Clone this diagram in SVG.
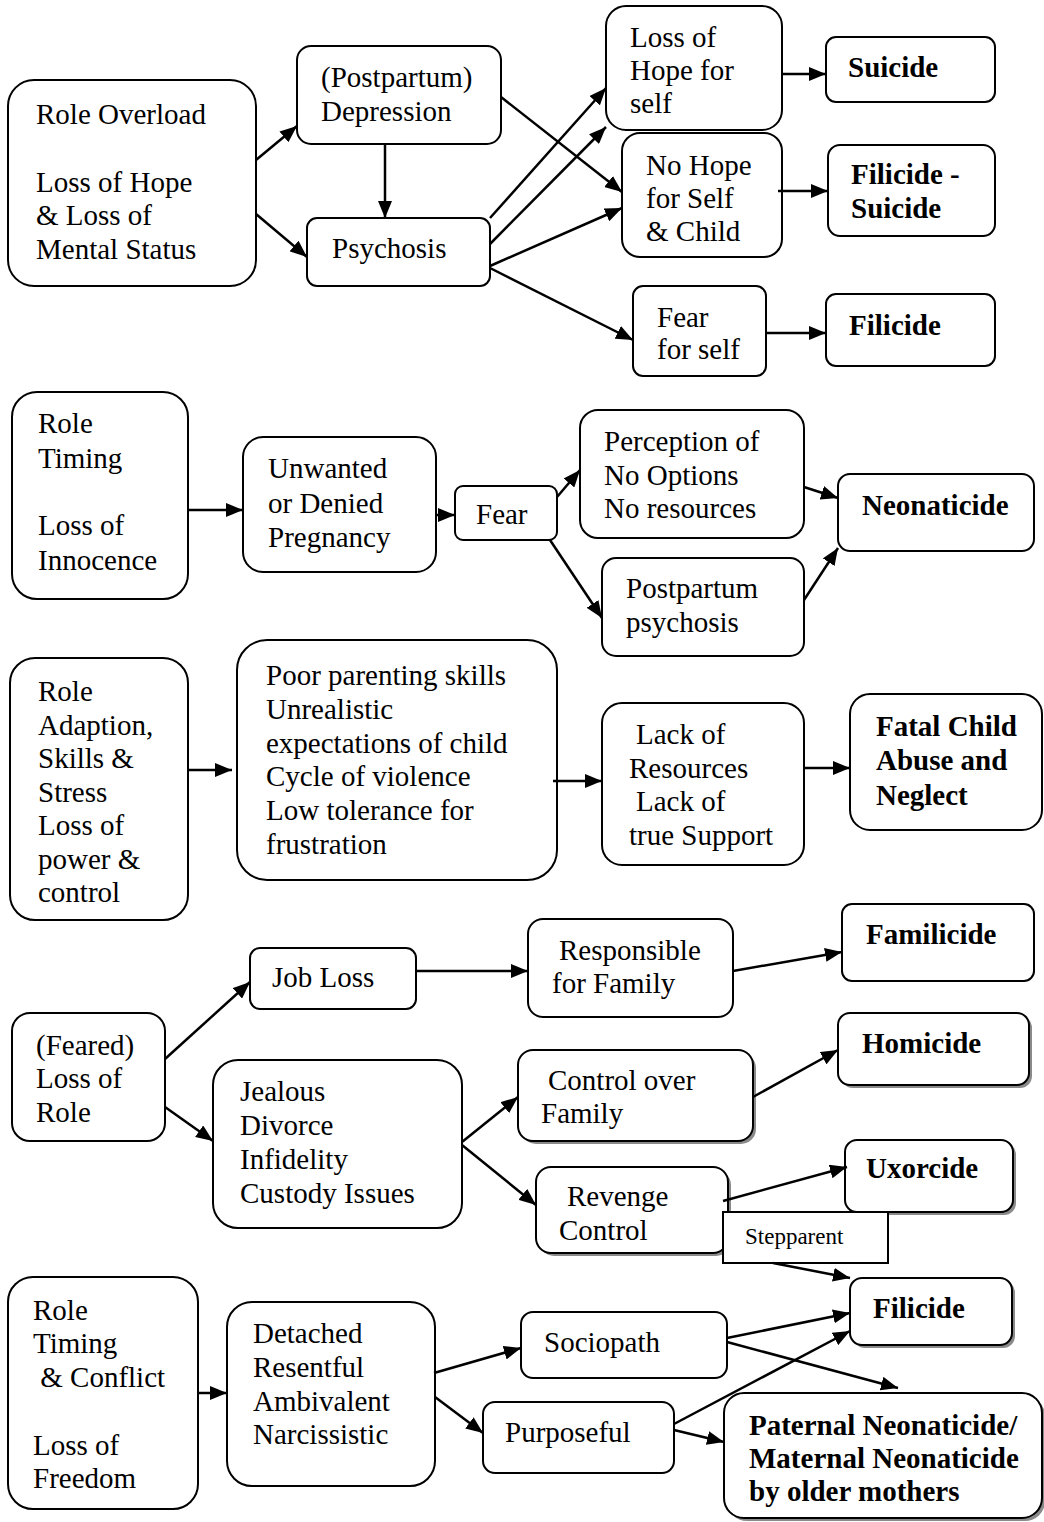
<svg xmlns="http://www.w3.org/2000/svg" width="1044" height="1522" viewBox="0 0 1044 1522">
<style>
.b{fill:#fff;stroke:#000;stroke-width:2}
.s{fill:#8a8a8a;stroke:none}
.t{font-family:"Liberation Serif","Times New Roman",serif;font-size:29px;fill:#000}
.bd{font-weight:bold}
.sm{font-size:23px}
.c{fill:none;stroke:#000;stroke-width:2.5;marker-end:url(#ah)}
</style>
<defs>
<marker id="ah" markerUnits="userSpaceOnUse" markerWidth="17" markerHeight="14" refX="17" refY="7" orient="auto">
<path d="M0,0 L17,7 L0,14 z" fill="#000"/>
</marker>
</defs>
<rect width="1044" height="1522" fill="#fff"/>

<!-- Section 1 -->
<g id="role-overload"><rect class="b" x="8" y="80" width="248" height="206" rx="26"/>
<text class="t"><tspan x="36" y="124">Role Overload</tspan><tspan x="36" y="192">Loss of Hope</tspan><tspan x="36" y="225">&amp; Loss of</tspan><tspan x="36" y="259">Mental Status</tspan></text></g>
<g id="depression"><rect class="b" x="297" y="46" width="204" height="98" rx="14"/>
<text class="t"><tspan x="321" y="87">(Postpartum)</tspan><tspan x="321" y="121">Depression</tspan></text></g>
<g id="psychosis"><rect class="b" x="307" y="218" width="183" height="68" rx="10"/>
<text class="t" x="332" y="258">Psychosis</text></g>
<g id="loss-hope-self"><rect class="b" x="606" y="6" width="176" height="124" rx="20"/>
<text class="t"><tspan x="630" y="47">Loss of</tspan><tspan x="630" y="80">Hope for</tspan><tspan x="630" y="113">self</tspan></text></g>
<g id="no-hope"><rect class="b" x="622" y="133" width="160" height="124" rx="18"/>
<text class="t"><tspan x="646" y="175">No Hope</tspan><tspan x="646" y="208">for Self</tspan><tspan x="646" y="241">&amp; Child</tspan></text></g>
<g id="fear-self"><rect class="b" x="633" y="286" width="133" height="90" rx="10"/>
<text class="t"><tspan x="657" y="327">Fear</tspan><tspan x="657" y="359">for self</tspan></text></g>
<g id="suicide"><rect class="b" x="826" y="37" width="169" height="65" rx="10"/>
<text class="t bd" x="848" y="77">Suicide</text></g>
<g id="filicide-suicide"><rect class="b" x="828" y="145" width="167" height="91" rx="12"/>
<text class="t bd"><tspan x="851" y="184">Filicide -</tspan><tspan x="851" y="218">Suicide</tspan></text></g>
<g id="filicide1"><rect class="b" x="826" y="294" width="169" height="72" rx="10"/>
<text class="t bd" x="849" y="335">Filicide</text></g>

<!-- Section 2 -->
<g id="role-timing"><rect class="b" x="12" y="392" width="176" height="207" rx="25"/>
<text class="t"><tspan x="38" y="433">Role</tspan><tspan x="38" y="468">Timing</tspan><tspan x="38" y="535">Loss of</tspan><tspan x="38" y="570">Innocence</tspan></text></g>
<g id="unwanted"><rect class="b" x="243" y="437" width="193" height="135" rx="20"/>
<text class="t"><tspan x="268" y="478">Unwanted</tspan><tspan x="268" y="513">or Denied</tspan><tspan x="268" y="547">Pregnancy</tspan></text></g>
<g id="fear"><rect class="b" x="455" y="486" width="102" height="54" rx="8"/>
<text class="t" x="476" y="524">Fear</text></g>
<g id="perception"><rect class="b" x="580" y="410" width="224" height="128" rx="18"/>
<text class="t"><tspan x="604" y="451">Perception of</tspan><tspan x="604" y="485">No Options</tspan><tspan x="604" y="518">No resources</tspan></text></g>
<g id="pp-psychosis"><rect class="b" x="602" y="558" width="202" height="98" rx="14"/>
<text class="t"><tspan x="626" y="598">Postpartum</tspan><tspan x="626" y="632">psychosis</tspan></text></g>
<g id="neonaticide"><rect class="b" x="838" y="474" width="196" height="77" rx="12"/>
<text class="t bd" x="862" y="515">Neonaticide</text></g>

<!-- Section 3 -->
<g id="role-adaption"><rect class="b" x="10" y="658" width="178" height="262" rx="25"/>
<text class="t"><tspan x="38" y="701">Role</tspan><tspan x="38" y="735">Adaption,</tspan><tspan x="38" y="768">Skills &amp;</tspan><tspan x="38" y="802">Stress</tspan><tspan x="38" y="835">Loss of</tspan><tspan x="38" y="869">power &amp;</tspan><tspan x="38" y="902">control</tspan></text></g>
<g id="poor-parenting"><rect class="b" x="237" y="640" width="320" height="240" rx="30"/>
<text class="t"><tspan x="266" y="685">Poor parenting skills</tspan><tspan x="266" y="719">Unrealistic</tspan><tspan x="266" y="753">expectations of child</tspan><tspan x="266" y="786">Cycle of violence</tspan><tspan x="266" y="820">Low tolerance for</tspan><tspan x="266" y="854">frustration</tspan></text></g>
<g id="lack"><rect class="b" x="602" y="703" width="202" height="162" rx="20"/>
<text class="t"><tspan x="636" y="744">Lack of</tspan><tspan x="629" y="778">Resources</tspan><tspan x="636" y="811">Lack of</tspan><tspan x="629" y="845">true Support</tspan></text></g>
<g id="fatal"><rect class="b" x="850" y="694" width="192" height="136" rx="20"/>
<text class="t bd"><tspan x="876" y="736">Fatal Child</tspan><tspan x="876" y="770">Abuse and</tspan><tspan x="876" y="805">Neglect</tspan></text></g>

<!-- Section 4 -->
<g id="feared"><rect class="b" x="12" y="1013" width="153" height="128" rx="18"/>
<text class="t"><tspan x="36" y="1055">(Feared)</tspan><tspan x="36" y="1088">Loss of</tspan><tspan x="36" y="1122">Role</tspan></text></g>
<g id="job-loss"><rect class="b" x="250" y="948" width="166" height="61" rx="10"/>
<text class="t" x="272" y="987">Job Loss</text></g>
<g id="jealous"><rect class="b" x="213" y="1060" width="249" height="168" rx="25"/>
<text class="t"><tspan x="240" y="1101">Jealous</tspan><tspan x="240" y="1135">Divorce</tspan><tspan x="240" y="1169">Infidelity</tspan><tspan x="240" y="1203">Custody Issues</tspan></text></g>
<g id="responsible"><rect class="b" x="528" y="919" width="205" height="98" rx="15"/>
<text class="t"><tspan x="559" y="960">Responsible</tspan><tspan x="552" y="993">for Family</tspan></text></g>
<g id="familicide"><rect class="b" x="842" y="904" width="192" height="77" rx="10"/>
<text class="t bd" x="866" y="944">Familicide</text></g>
<g id="control"><rect class="s" x="521" y="1053" width="235" height="91" rx="15"/><rect class="b" x="518" y="1050" width="235" height="91" rx="15"/>
<text class="t"><tspan x="548" y="1090">Control over</tspan><tspan x="541" y="1123">Family</tspan></text></g>
<g id="revenge"><rect class="s" x="539" y="1170" width="192" height="86" rx="15"/><rect class="b" x="536" y="1167" width="192" height="86" rx="15"/>
<text class="t"><tspan x="567" y="1206">Revenge</tspan><tspan x="559" y="1240">Control</tspan></text></g>
<g id="homicide"><rect class="s" x="841" y="1016" width="191" height="72" rx="12"/><rect class="b" x="838" y="1013" width="191" height="72" rx="12"/>
<text class="t bd" x="862" y="1053">Homicide</text></g>
<g id="uxorcide"><rect class="s" x="848" y="1143" width="168" height="72" rx="12"/><rect class="b" x="845" y="1140" width="168" height="72" rx="12"/>
<text class="t bd" x="866" y="1178">Uxorcide</text></g>
<g id="stepparent"><rect class="b" x="723" y="1212" width="165" height="51"/>
<text class="t sm" x="745" y="1244">Stepparent</text></g>

<!-- Section 5 -->
<g id="role-timing-conflict"><rect class="b" x="8" y="1277" width="190" height="232" rx="25"/>
<text class="t"><tspan x="33" y="1320">Role</tspan><tspan x="33" y="1353">Timing</tspan><tspan x="33" y="1387"> &amp; Conflict</tspan><tspan x="33" y="1455">Loss of</tspan><tspan x="33" y="1488">Freedom</tspan></text></g>
<g id="detached"><rect class="b" x="227" y="1302" width="208" height="184" rx="25"/>
<text class="t"><tspan x="253" y="1343">Detached</tspan><tspan x="253" y="1377">Resentful</tspan><tspan x="253" y="1411">Ambivalent</tspan><tspan x="253" y="1444">Narcissistic</tspan></text></g>
<g id="sociopath"><rect class="b" x="521" y="1312" width="206" height="66" rx="12"/>
<text class="t" x="544" y="1352">Sociopath</text></g>
<g id="purposeful"><rect class="b" x="483" y="1402" width="191" height="71" rx="12"/>
<text class="t" x="505" y="1442">Purposeful</text></g>
<g id="filicide2"><rect class="s" x="853" y="1281" width="162" height="67" rx="12"/><rect class="b" x="850" y="1278" width="162" height="67" rx="12"/>
<text class="t bd" x="873" y="1318">Filicide</text></g>
<g id="paternal"><rect class="s" x="727" y="1396" width="318" height="125" rx="20"/><rect class="b" x="724" y="1393" width="318" height="125" rx="20"/>
<text class="t bd"><tspan x="749" y="1435">Paternal Neonaticide/</tspan><tspan x="749" y="1468">Maternal Neonaticide</tspan><tspan x="749" y="1501">by older mothers</tspan></text></g>

<g id="connectors">
<!-- section 1 -->
<line class="c" x1="256" y1="160" x2="297" y2="126"/>
<line class="c" x1="256" y1="214" x2="307" y2="257"/>
<line class="c" x1="385" y1="144" x2="385" y2="218"/>
<line class="c" x1="501" y1="97" x2="622" y2="192"/>
<line class="c" x1="490" y1="218" x2="606" y2="88"/>
<line class="c" x1="490" y1="244" x2="606" y2="127"/>
<line class="c" x1="490" y1="266" x2="622" y2="208"/>
<line class="c" x1="490" y1="268" x2="633" y2="340"/>
<line class="c" x1="782" y1="74" x2="826" y2="74"/>
<line class="c" x1="778" y1="191" x2="828" y2="191"/>
<line class="c" x1="766" y1="333" x2="826" y2="333"/>
<!-- section 2 -->
<line class="c" x1="188" y1="510" x2="243" y2="510"/>
<line class="c" x1="436" y1="515" x2="455" y2="515"/>
<line class="c" x1="557" y1="497" x2="580" y2="470"/>
<line class="c" x1="550" y1="540" x2="602" y2="618"/>
<line class="c" x1="804" y1="487" x2="838" y2="498"/>
<line class="c" x1="804" y1="600" x2="838" y2="548"/>
<!-- section 3 -->
<line class="c" x1="188" y1="770" x2="232" y2="770"/>
<line class="c" x1="553" y1="781" x2="602" y2="781"/>
<line class="c" x1="804" y1="768" x2="850" y2="768"/>
<!-- section 4 -->
<line class="c" x1="165" y1="1059" x2="250" y2="982"/>
<line class="c" x1="165" y1="1107" x2="213" y2="1141"/>
<line class="c" x1="416" y1="971" x2="528" y2="971"/>
<line class="c" x1="733" y1="971" x2="842" y2="952"/>
<line class="c" x1="462" y1="1142" x2="518" y2="1097"/>
<line class="c" x1="462" y1="1145" x2="536" y2="1205"/>
<line class="c" x1="753" y1="1097" x2="838" y2="1050"/>
<line class="c" x1="723" y1="1201" x2="847" y2="1167"/>
<line class="c" x1="773" y1="1263" x2="850" y2="1278"/>
<!-- section 5 -->
<line class="c" x1="198" y1="1393" x2="227" y2="1393"/>
<line class="c" x1="434" y1="1373" x2="521" y2="1348"/>
<line class="c" x1="435" y1="1397" x2="483" y2="1433"/>
<line class="c" x1="727" y1="1338" x2="850" y2="1313"/>
<line class="c" x1="727" y1="1342" x2="898" y2="1388"/>
<line class="c" x1="674" y1="1424" x2="850" y2="1331"/>
<line class="c" x1="674" y1="1430" x2="724" y2="1442"/>
</g>
</svg>
